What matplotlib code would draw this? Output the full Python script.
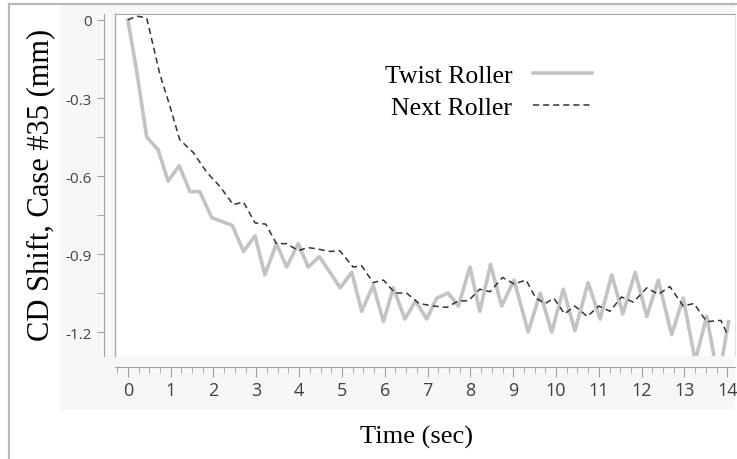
import numpy as np
import matplotlib
matplotlib.use("Agg")
import matplotlib.pyplot as plt
from matplotlib.patches import Rectangle
from matplotlib.lines import Line2D

# values
twist_t = [0, 0.2, 0.44, 0.71, 0.94, 1.2, 1.45, 1.68, 1.96, 2.2, 2.44, 2.7, 2.97,
           3.2, 3.47, 3.71, 3.98, 4.21, 4.47, 4.72, 4.96, 5.23, 5.46, 5.73, 5.97,
           6.2, 6.47, 6.72, 6.98, 7.21, 7.48, 7.72, 7.99, 8.22, 8.47, 8.73, 9.02,
           9.35, 9.63, 9.9, 10.17, 10.44, 10.75, 11.03, 11.3, 11.56, 11.85, 12.12,
           12.39, 12.7, 12.97, 13.25, 13.52, 13.71, 13.87, 14.03]
twist_v = [0, -0.19, -0.45, -0.50, -0.62, -0.56, -0.66, -0.66, -0.76, -0.775, -0.79,
           -0.89, -0.83, -0.98, -0.86, -0.95, -0.86, -0.95, -0.91, -0.97, -1.03, -0.97,
           -1.12, -1.02, -1.16, -1.03, -1.15, -1.08, -1.15, -1.07, -1.05, -1.10, -0.95,
           -1.12, -0.94, -1.10, -1.00, -1.20, -1.05, -1.20, -1.035, -1.195, -1.01, -1.15,
           -0.98, -1.13, -0.97, -1.14, -1.00, -1.21, -1.07, -1.31, -1.14, -1.31, -1.31,
           -1.16]

next_t = [0, 0.2, 0.44, 0.75, 0.98, 1.21, 1.53, 1.84, 2.15, 2.46, 2.7, 2.97, 3.22,
          3.47, 3.71, 3.98, 4.2, 4.41, 4.72, 4.95, 5.26, 5.46, 5.73, 5.97, 6.24, 6.51,
          6.8, 7.13, 7.45, 7.72, 7.95, 8.22, 8.46, 8.75, 9.02, 9.3, 9.53, 9.75, 9.95,
          10.2, 10.44, 10.73, 11.0, 11.26, 11.53, 11.81, 12.12, 12.39, 12.66, 12.97,
          13.22, 13.52, 13.85, 14.02]
next_v = [0, 0.015, 0.008, -0.21, -0.33, -0.46, -0.51, -0.585, -0.64, -0.71, -0.70,
          -0.78, -0.785, -0.86, -0.86, -0.887, -0.875, -0.88, -0.89, -0.887, -0.95,
          -0.945, -1.01, -1.00, -1.05, -1.05, -1.09, -1.10, -1.105, -1.08, -1.08, -1.035,
          -1.045, -0.99, -1.015, -1.00, -1.07, -1.09, -1.07, -1.13, -1.10, -1.14, -1.10,
          -1.12, -1.065, -1.085, -1.03, -1.055, -1.025, -1.10, -1.09, -1.16, -1.155,
          -1.215]

y_ticks = [0, -0.3, -0.6, -0.9, -1.2]
y_labels = ["0", "-0.3", "-0.6", "-0.9", "-1.2"]
x_ticks = list(range(0, 15))

W, H = 737, 460
fig = plt.figure(figsize=(W / 100, H / 100), dpi=100)

# outer frame and light panel behind the axes
fig.patches.append(Rectangle((60 / W, 1 - 411 / H), (735 - 60) / W, (411 - 6) / H,
                             transform=fig.transFigure, facecolor="#f7f7f7",
                             edgecolor="none", zorder=-5))
fig.lines.append(Line2D([9 / W, 1], [1 - 5 / H, 1 - 5 / H], transform=fig.transFigure,
                        color="#b8b8b8", lw=1.6, zorder=-4))
fig.lines.append(Line2D([9 / W, 9 / W], [0, 1 - 5 / H], transform=fig.transFigure,
                        color="#b8b8b8", lw=1.6, zorder=-4))

ax = fig.add_axes([115 / W, 1 - 357 / H, (735 - 115) / W, (357 - 15) / H])
ax.set_facecolor("white")

ax.plot(twist_t, twist_v, color="#c3c3c3", lw=2.6, solid_joinstyle="round",
        label="Twist Roller")
ax.plot(next_t, next_v, color="#333333", lw=1.1, dashes=(4, 2.6),
        label="Next Roller")

ax.set_xlim(-0.30, 14.18)
ax.set_ylim(-1.292, 0.023)

ax.set_yticks(y_ticks)
ax.set_yticklabels(y_labels)
ax.set_yticks([-0.15, -0.45, -0.75, -1.05], minor=True)
ax.set_xticks(x_ticks)
ax.set_xticks(np.arange(-0.25, 14.01, 0.25), minor=True)

for s in ["left", "bottom"]:
    ax.spines[s].set_position(("outward", 8))
    ax.spines[s].set_color("#a0a0a0")
ax.spines["top"].set_color("#a8a8a8")
ax.spines["right"].set_color("#e2e2e2")
# frame line along the left edge of the plot area
ax.plot([0, 0], [0, 1], transform=ax.transAxes, color="#a8a8a8", lw=1.0,
        clip_on=False)

ax.tick_params(axis="y", which="both", length=5, color="#a0a0a0", pad=4,
               labelsize=11, labelcolor="#404040")
ax.tick_params(axis="x", which="major", length=7, color="#a0a0a0", pad=3,
               labelsize=13, labelcolor="#404040")
ax.tick_params(axis="x", which="minor", length=4, color="#a0a0a0")
for lab in ax.get_xticklabels() + ax.get_yticklabels():
    lab.set_family("Open Sans")

fig.text(417 / W, 1 - 437 / H, "Time (sec)", family="Liberation Serif",
         fontsize=19, ha="center", va="center")
fig.text(41 / W, 1 - 185 / H, "CD Shift, Case #35 (mm)", family="Liberation Serif",
         fontsize=22, rotation=90, ha="center", va="center")

fig.legend(loc="upper left", bbox_to_anchor=(372 / W, 1 - 52 / H), frameon=False,
           markerfirst=False, borderpad=0, handlelength=2.33, handletextpad=0.78,
           labelspacing=0.37, prop={"family": "Liberation Serif", "size": 18.5})

fig.savefig("out.png", dpi=100)
